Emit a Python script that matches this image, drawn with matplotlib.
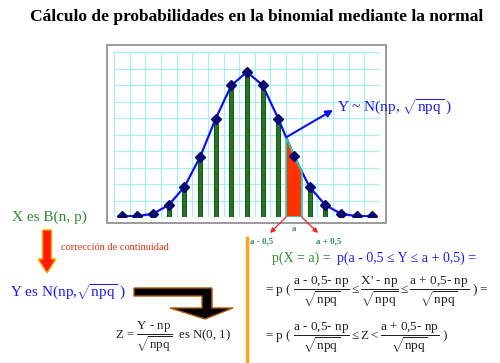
import numpy as np
import matplotlib
matplotlib.use("Agg")
import matplotlib.pyplot as plt
from matplotlib.patches import Rectangle, Polygon, FancyArrow

plt.rcParams['font.family'] = ['Liberation Serif', 'DejaVu Serif']
plt.rcParams['mathtext.fontset'] = 'custom'
plt.rcParams['mathtext.rm'] = 'Liberation Serif'
plt.rcParams['mathtext.it'] = 'Liberation Serif:italic'
plt.rcParams['mathtext.bf'] = 'Liberation Serif:bold'

# ---- data (grid units) ----
k_values = list(range(17))
heights = [0.05, 0.05, 0.2, 0.73, 1.82, 3.64, 5.96, 7.98, 8.79, 7.98, 5.96, 3.7, 1.82, 0.73, 0.2, 0.05, 0.05]
a_index = 11
title = "Cálculo de probabilidades en la binomial mediante la normal"

W, H = 500, 363
fig = plt.figure(figsize=(W / 100, H / 100), dpi=100)

# main chart axes (pixel box 114..380 x 52..217)
ax = fig.add_axes([114 / W, 1 - 217 / H, (380 - 114) / W, (217 - 52) / H])
ax.set_xlim(-0.5, 16.5)
ax.set_ylim(0, 10)
ax.set_xticks(np.arange(-0.5, 17, 1))
ax.set_yticks(np.arange(0, 11, 1))
ax.grid(True, color='#a8eef2', lw=0.9)
ax.tick_params(length=0, labelbottom=False, labelleft=False)
for s in ax.spines.values():
    s.set_visible(False)
ax.set_axisbelow(True)

ax.bar(k_values, heights, width=0.26, color='#1f7a1f', edgecolor='#0b3d0b', lw=0.6, zorder=2)
ax.plot(k_values, heights, color='#1010ee', lw=1.6, zorder=3)
ax.plot(k_values, heights, ls='none', marker='D', ms=5.3, color='#0a0a70', zorder=5)

# area under curve between a-0.5 and a+0.5
xs = np.linspace(a_index - 0.5, a_index + 0.5, 20)
ys = np.interp(xs, k_values, heights)
poly = np.vstack([np.column_stack([xs, ys]), [[a_index + 0.5, 0], [a_index - 0.5, 0]]])
ax.add_patch(Polygon(poly, closed=True, facecolor='#ff3300', edgecolor='#33c9a0', lw=1.3, zorder=4))

# overlay axes in pixel coords
ov = fig.add_axes([0, 0, 1, 1])
ov.set_xlim(0, W)
ov.set_ylim(H, 0)
ov.axis('off')

ov.add_patch(Rectangle((107, 45), 279, 178, facecolor='none', edgecolor='#9a9a9a', lw=1.4))

ov.text(257, 17, title, ha='center', va='center', fontsize=12.5, fontweight='bold', color='black')

# arrow to Y ~ N label
y_top = np.interp(a_index - 0.5, k_values, heights)
ov.annotate('', xy=(333, 110), xytext=(a_index - 0.5, y_top), textcoords=ax.transData,
            arrowprops=dict(arrowstyle='-|>', color='#1010ee', lw=1.5, mutation_scale=10,
                            shrinkA=0, shrinkB=0))
ov.text(337, 107, r"Y ~ N(np, $\sqrt{\text{npq}}$ )", ha='left', va='center', fontsize=11, color='#1a1aee')

# red arrows to a-0.5 and a+0.5
for dx, tx in [(-0.5, 270), (0.5, 318)]:
    ov.annotate('', xy=(tx, 233), xytext=(a_index + dx, 0), textcoords=ax.transData,
                arrowprops=dict(arrowstyle='-|>', color='#ee2222', lw=0.9, mutation_scale=7,
                                shrinkA=0, shrinkB=0))
teal = '#2e8b6e'
ov.text(294, 229, 'a', ha='center', va='center', fontsize=6.5, fontweight='bold', color=teal)
ov.text(262, 241, 'a - 0,5', ha='center', va='center', fontsize=6.5, fontweight='bold', color=teal)
ov.text(329, 241, 'a + 0,5', ha='center', va='center', fontsize=6.5, fontweight='bold', color=teal)

# left side
green = '#2e8b2e'
blue = '#1a1aee'
ov.text(12, 217, 'X es B(n, p)', ha='left', va='center', fontsize=11, color=green)
ov.add_patch(FancyArrow(47, 230, 0, 43, width=9, head_width=18, head_length=14,
                        length_includes_head=True, facecolor='#ff1a00', edgecolor='#ffaa00', lw=1))
ov.text(61, 248, 'corrección de continuidad', ha='left', va='center', fontsize=7.5, color='#dd3311')
ov.text(10, 292, r"Y es N(np,$\sqrt{\text{npq}}$ )", ha='left', va='center', fontsize=11, color=blue)

bent = [(134, 288), (212, 288), (212, 308), (233, 308), (205, 319), (170, 308),
        (202, 308), (202, 296), (134, 296)]
ov.add_patch(Polygon(bent, closed=True, facecolor='black', edgecolor='#b35900', lw=1))

dark = '#222222'
ov.text(115, 337, r"Z = $\dfrac{\text{Y - np}}{\sqrt{\text{npq}}}$  es N(0, 1)", ha='left', va='center',
        fontsize=9.3, color=dark)

# orange divider
ov.plot([246.5, 246.5], [238, 363], color='#ffa31a', lw=2.5)

# right-side equations
ov.text(272, 258, 'p(X = a) =', ha='left', va='center', fontsize=10, color=green)
ov.text(337, 258, 'p(a - 0,5 ≤ Y ≤ a + 0,5) =', ha='left', va='center', fontsize=10, color=blue)
ov.text(265, 292, r"= p ( $\dfrac{\text{a - 0,5- np}}{\sqrt{\text{npq}}}\leq"
        r"\dfrac{\text{X' - np}}{\sqrt{\text{npq}}}\leq"
        r"\dfrac{\text{a + 0,5- np}}{\sqrt{\text{npq}}}$ ) =",
        ha='left', va='center', fontsize=9.5, color=dark)
ov.text(265, 338, r"= p ( $\dfrac{\text{a - 0,5- np}}{\sqrt{\text{npq}}}\leq$Z$<$"
        r"$\dfrac{\text{a + 0,5- np}}{\sqrt{\text{npq}}}$ )",
        ha='left', va='center', fontsize=9.5, color=dark)

fig.savefig('out.png', dpi=100)
